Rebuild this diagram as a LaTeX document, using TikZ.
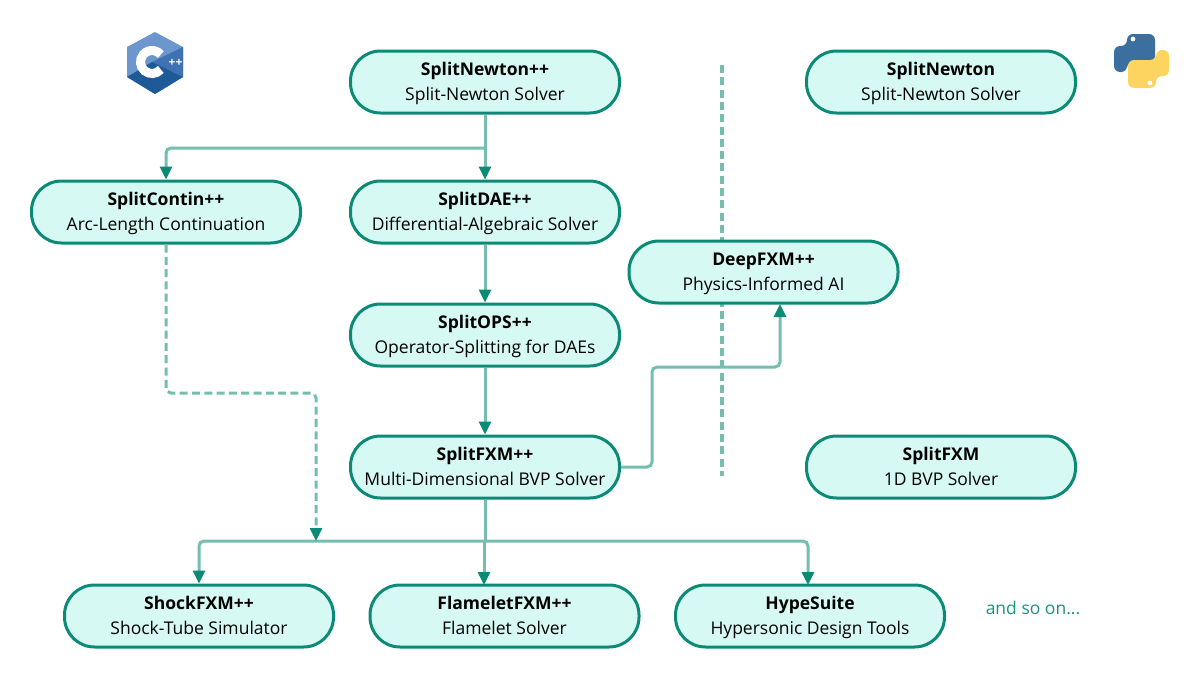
\documentclass[tikz,border=0pt]{standalone}
\usepackage{fontspec}
\setmainfont{Open Sans}
\usetikzlibrary{arrows.meta}
\definecolor{boxline}{HTML}{0B8A75}
\definecolor{boxfill}{HTML}{D6F9F3}
\definecolor{flowline}{HTML}{74BDAF}
\definecolor{andso}{HTML}{1A937F}
\definecolor{cpplight}{HTML}{6C96CE}
\definecolor{cppmid}{HTML}{3F72B2}
\definecolor{cppdark}{HTML}{1F5A98}
\definecolor{pyblue}{HTML}{3B6F9F}
\definecolor{pyyellow}{HTML}{FCD45F}
\newcommand{\solvertext}[2]{\rule{0pt}{19.5pt}\textbf{#1}\\#2\strut}
\tikzstyle{solver}=[
    draw=boxline,   % dark teal border
    rectangle,
    line width=3pt,
    fill=boxfill,   % pale teal inside
    rounded corners=30pt,
    minimum width=269pt,
    minimum height=62pt,
    inner sep=0pt,
    align=center,
    font=\fontsize{17.5pt}{25pt}\selectfont]
\tikzstyle{flow}=[
    draw=flowline,
    line width=3pt,
    rounded corners=5pt,
    -{Triangle[length=13pt,width=12pt,color=boxline]}]
\tikzstyle{flowdash}=[flow, dash pattern=on 8pt off 4.3pt]
\tikzstyle{bus}=[draw=flowline, line width=3pt, rounded corners=5pt]
\begin{document}
\begin{tikzpicture}[x=1pt,y=-1pt]
        \useasboundingbox (0,0) rectangle (1200,678);

        % C++ badge
        \fill[fill=cpplight] (155,32) -- (183,47) -- (183,77) -- (155,94) -- (127,77) -- (127,47) -- cycle;
        \fill[fill=cppmid] (152,62) -- (183,47) -- (183,77) -- cycle;
        \fill[fill=cppdark] (152,62) -- (183,77) -- (155,94) -- (127,77) -- cycle;
        \draw[white, line width=9pt] (152,62) ++(40:11.5) arc[start angle=40, end angle=320, radius=11.5];
        \node[text=white, font=\bfseries\fontsize{12pt}{12pt}\selectfont, inner sep=0pt] (plus) at (175.5,62.5) {++};

        % Python badge
        \fill[fill=pyblue, rounded corners=6pt] (1127,46) -- (1127,34) -- (1155,34) -- (1155,62) -- (1127,62) -- (1127,72) -- (1114,72) -- (1114,46) -- cycle;
        \fill[fill=pyyellow, rounded corners=6pt] (1156,76) -- (1156,88) -- (1128,88) -- (1128,60) -- (1156,60) -- (1156,50) -- (1169,50) -- (1169,76) -- cycle;
        \fill[white] (1133,39) circle (2.4);
        \fill[white] (1150,83) circle (2.4);

        % Draw the divider first, it runs behind DeepFXM
        \coordinate (dividertop) at (722,65);
        \coordinate (dividerend) at (722,476);
        \draw[draw=flowline, line width=3.5pt, dash pattern=on 8pt off 4.3pt] (dividertop) -- (dividerend);

        % Draw the vertices.
        \node[solver] (newton) at (485,82) {\solvertext{SplitNewton++}{Split-Newton Solver}};
        \node[solver, below of=newton, node distance=130pt] (dae) {\solvertext{SplitDAE++}{Differential-Algebraic Solver}};
        \node[solver, below of=dae, node distance=123pt] (ops) {\solvertext{SplitOPS++}{Operator-Splitting for DAEs}};
        \node[solver, below of=ops, node distance=132pt] (fxm) {\solvertext{SplitFXM++}{Multi-Dimensional BVP Solver}};
        \node[solver, left of=dae, node distance=319pt] (contin) {\solvertext{SplitContin++}{Arc-Length Continuation}};
        \node[solver] (deep) at (763.5,272) {\solvertext{DeepFXM++}{Physics-Informed AI}};
        \node[solver, right of=newton, node distance=456pt] (pynewton) {\solvertext{SplitNewton}{Split-Newton Solver}};
        \node[solver, right of=fxm, node distance=456pt] (pyfxm) {\solvertext{SplitFXM}{1D BVP Solver}};
        \node[solver] (shock) at (199,616) {\solvertext{ShockFXM++}{Shock-Tube Simulator}};
        \node[solver, right of=shock, node distance=305.5pt] (flamelet) {\solvertext{FlameletFXM++}{Flamelet Solver}};
        \node[solver, right of=flamelet, node distance=305.5pt] (hype) {\solvertext{HypeSuite}{Hypersonic Design Tools}};
        \node[text=andso, font=\fontsize{17.5pt}{20pt}\selectfont, inner sep=0pt] (more) at (1033,608) {and so on...};

        % Connect vertices with edges
        \coordinate (newtonfork) at (485,148);
        \coordinate (fxmfork) at (485,541);
        \coordinate (flameletfork) at (484,541);
        \coordinate (dashjog) at (316,393);
        \coordinate (dashend) at (316,541);
        \coordinate (deeprise) at (652,367);
        \coordinate (deepin) at (780,304);
        \coordinate (flameletin) at (484,585);
        \coordinate (hypein) at (808,585);

        \path[flow] (newton.south) -- (dae.north);
        \path[flow] (newtonfork) -| (contin.north);
        \path[flow] (dae.south) -- (ops.north);
        \path[flow] (ops.south) -- (fxm.north);
        \path[flow] (fxm.east) -| (deeprise) -| (deepin);
        \path[bus] (fxm.south) -- (fxmfork);
        \path[flow] (fxmfork) -| (shock.north);
        \path[flow] (flameletfork) -- (flameletin);
        \path[flow] (fxmfork) -| (hypein);
        \path[flowdash] (contin.south) |- (dashjog) -- (dashend);
\end{tikzpicture}
\end{document}
